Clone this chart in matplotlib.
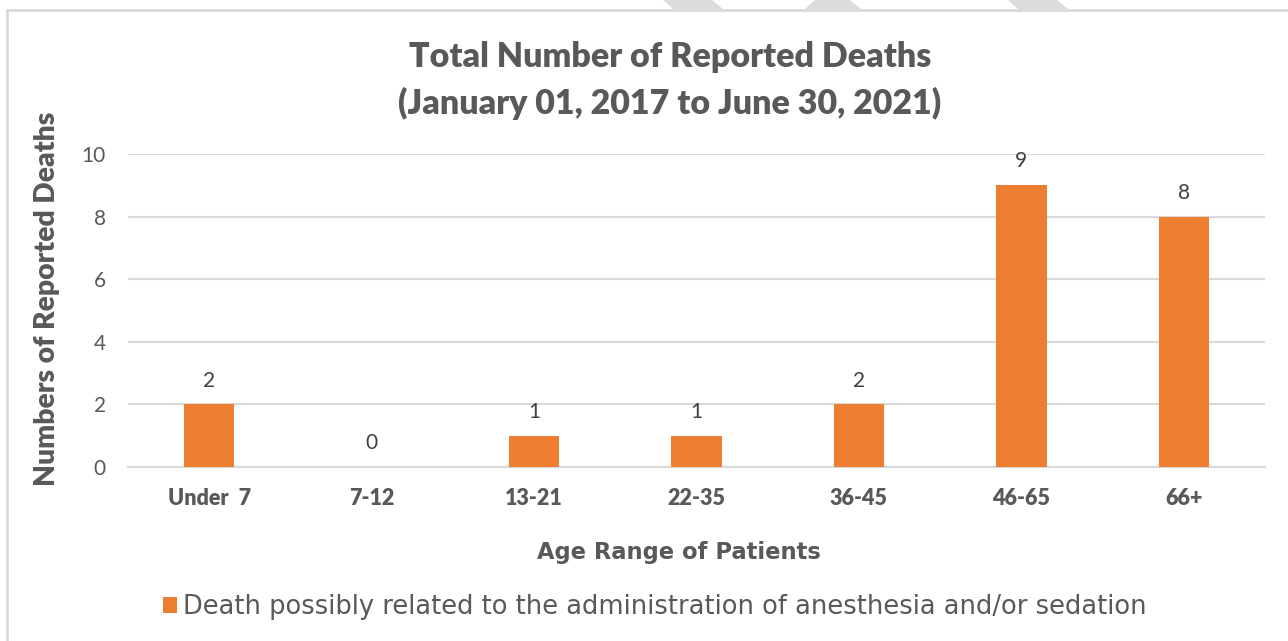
import matplotlib.pyplot as plt
from matplotlib.patches import Polygon, Rectangle

# data
age_groups = ['Under  7', '7-12', '13-21', '22-35', '36-45', '46-65', '66+']
deaths = [2, 0, 1, 1, 2, 9, 8]
series_name = 'Death possibly related to the administration of anesthesia and/or sedation'
title_lines = ['Total Number of Reported Deaths', '(January 01, 2017 to June 30, 2021)']
y_ticks = [0, 2, 4, 6, 8, 10]

W, H = 1288, 641
orange = '#ed7d31'
grid_col = '#d9d9d9'
text_col = '#595959'
label_col = '#404040'

fig = plt.figure(figsize=(W / 100, H / 100), dpi=100)
ax = fig.add_axes([128 / W, 1 - 467 / H, (1265 - 128) / W, (467 - 154) / H])

x = list(range(len(age_groups)))
bars = ax.bar(x, deaths, width=0.31, color=orange, label=series_name, zorder=3)
for xi, v in zip(x, deaths):
    ax.annotate(str(v), (xi, v), xytext=(0, 10), textcoords='offset points',
                ha='center', va='bottom', fontsize=15, color=label_col,
                family='Lato')

ax.set_xlim(-0.5, len(age_groups) - 0.5)
ax.set_ylim(0, 10)
ax.set_yticks(y_ticks)
ax.set_xticks(x)
ax.set_xticklabels(age_groups, fontsize=15.5, fontweight='heavy', color=text_col,
                   family='Lato')
ax.tick_params(axis='x', length=0, pad=15)
ax.tick_params(axis='y', length=0, pad=16, labelsize=15, labelcolor=text_col)
for t in ax.get_yticklabels():
    t.set_family('Lato')
ax.grid(axis='y', color=grid_col, linewidth=1.5, zorder=0)
for s in ['top', 'right', 'left']:
    ax.spines[s].set_visible(False)
ax.spines['bottom'].set_color(grid_col)
ax.spines['bottom'].set_linewidth(1.5)

# titles and axis labels
fig.text(670 / W, 1 - 57 / H, title_lines[0], ha='center', va='center',
         fontsize=24.5, fontweight='heavy', color=text_col, family='Lato')
fig.text(670 / W, 1 - 103 / H, title_lines[1], ha='center', va='center',
         fontsize=24.5, fontweight='heavy', color=text_col, family='Lato')
fig.text(47 / W, 1 - 299 / H, 'Numbers of Reported Deaths', rotation=90,
         ha='center', va='center', fontsize=20.3, fontweight='heavy',
         color=text_col, family='Lato')
fig.text(679 / W, 1 - 553 / H, 'Age Range of Patients', ha='center', va='center',
         fontsize=16.3, fontweight='bold', color=text_col, family='DejaVu Sans')

leg = fig.legend(handles=[bars], labels=[series_name], loc='center',
                 bbox_to_anchor=(655 / W, 1 - 607 / H), frameon=False,
                 handlelength=0.55, handleheight=0.55, handletextpad=0.25,
                 prop={'family': 'DejaVu Sans', 'size': 18.5})
for t in leg.get_texts():
    t.set_color(text_col)

# chart border and watermark stripes at the top
fig.patches.append(Rectangle((7 / W, -0.1), 1.2, 1.1 - 10 / H, transform=fig.transFigure,
                             fill=False, edgecolor=grid_col, linewidth=2))
stripes = [[(663, 0), (712, 0), (723, 9), (673, 9)],
           [(815, 0), (850, 0), (861, 9), (805, 9)],
           [(1008, 0), (1057, 0), (1068, 9), (1018, 9)]]
for pts in stripes:
    fig.patches.append(Polygon([(px / W, 1 - py / H) for px, py in pts], closed=True,
                               transform=fig.transFigure, facecolor='#dcdcdc',
                               edgecolor='none'))

fig.savefig('out.png', dpi=100)
